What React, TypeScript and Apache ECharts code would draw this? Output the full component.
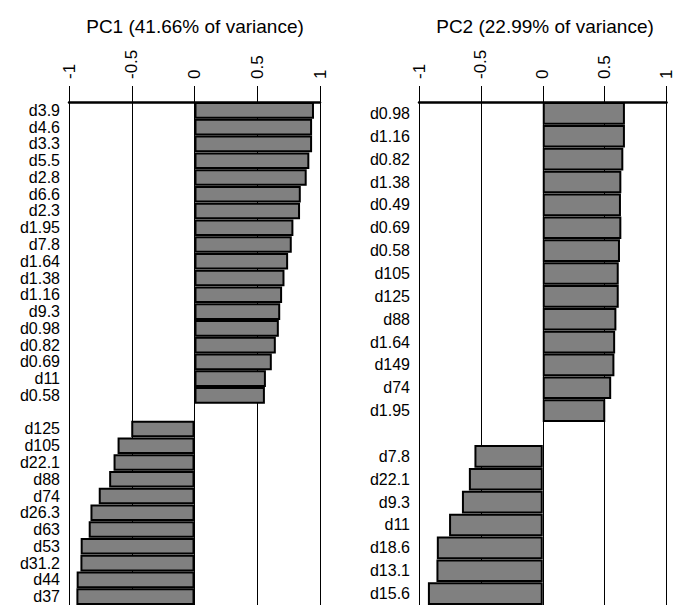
import React, { useEffect, useRef } from "react";
import * as echarts from "echarts";

const pc1Title = "PC1 (41.66% of variance)";
const pc2Title = "PC2 (22.99% of variance)";

const pc1PosCats = ["d3.9", "d4.6", "d3.3", "d5.5", "d2.8", "d6.6", "d2.3", "d1.95", "d7.8", "d1.64", "d1.38", "d1.16", "d9.3", "d0.98", "d0.82", "d0.69", "d11", "d0.58"];
const pc1PosVals = [0.952, 0.937, 0.937, 0.915, 0.894, 0.847, 0.841, 0.788, 0.775, 0.746, 0.717, 0.698, 0.683, 0.672, 0.648, 0.616, 0.569, 0.561];
const pc1NegCats = ["d125", "d105", "d22.1", "d88", "d74", "d26.3", "d63", "d53", "d31.2", "d44", "d37"];
const pc1NegVals = [-0.504, -0.613, -0.645, -0.68, -0.763, -0.829, -0.843, -0.907, -0.909, -0.939, -0.941];

const pc2PosCats = ["d0.98", "d1.16", "d0.82", "d1.38", "d0.49", "d0.69", "d0.58", "d105", "d125", "d88", "d1.64", "d149", "d74", "d1.95"];
const pc2PosVals = [0.664, 0.664, 0.651, 0.635, 0.632, 0.635, 0.624, 0.614, 0.614, 0.595, 0.585, 0.579, 0.553, 0.505];
const pc2NegCats = ["d7.8", "d22.1", "d9.3", "d11", "d18.6", "d13.1", "d15.6"];
const pc2NegVals = [-0.552, -0.597, -0.653, -0.757, -0.856, -0.859, -0.928];

const xTicks = [-1, -0.5, 0, 0.5, 1];

const FONT = "Liberation Sans, Arial, Helvetica, sans-serif";

function buildX(idx: number) {
  return {
    type: "value",
    gridIndex: idx,
    position: "top",
    min: xTicks[0],
    max: xTicks[xTicks.length - 1],
    interval: 0.5,
    axisLine: { show: true, onZero: false, lineStyle: { color: "#000", width: 2.5 } },
    axisTick: { show: true, length: 16, lineStyle: { color: "#000", width: 1 } },
    axisLabel: {
      rotate: -90,
      margin: 23,
      color: "#000",
      fontSize: 17,
      fontFamily: FONT,
      formatter: (v: number) => String(v),
    },
    splitLine: { show: true, lineStyle: { color: "#000", width: 1 } },
  };
}

function buildY(idx: number, cats: string[]) {
  return {
    type: "category",
    gridIndex: idx,
    inverse: true,
    data: cats,
    axisLine: { show: false },
    axisTick: { show: false },
    axisLabel: { color: "#000", fontSize: 16, fontFamily: FONT, margin: 9, interval: 0 },
    splitLine: { show: false },
  };
}

export default function App() {
  const ref = useRef<HTMLDivElement>(null);
  useEffect(() => {
    if (!ref.current) return;
    const chart = echarts.init(ref.current, null, { renderer: "svg" });
    const cats1 = [...pc1PosCats, "", ...pc1NegCats];
    const vals1 = [...pc1PosVals, null, ...pc1NegVals];
    const cats2 = [...pc2PosCats, "", ...pc2NegCats];
    const vals2 = [...pc2PosVals, null, ...pc2NegVals];
    const barStyle = { color: "#808080", borderColor: "#000", borderWidth: 2 };
    const titleStyle = { fontSize: 19, fontWeight: "normal", color: "#000", fontFamily: FONT };
    chart.setOption({
      animation: false,
      backgroundColor: "#fff",
      title: [
        { text: pc1Title, left: 190, top: 12, textAlign: "center", textStyle: titleStyle },
        { text: pc2Title, left: 540, top: 12, textAlign: "center", textStyle: titleStyle },
      ],
      grid: [
        { left: 69, width: 251, top: 102, height: 504 },
        { left: 419, width: 251, top: 102, height: 504 },
      ],
      xAxis: [buildX(0), buildX(1)],
      yAxis: [buildY(0, cats1), buildY(1, cats2)],
      series: [
        { type: "bar", xAxisIndex: 0, yAxisIndex: 0, data: vals1, barCategoryGap: "1%", itemStyle: barStyle },
        { type: "bar", xAxisIndex: 1, yAxisIndex: 1, data: vals2, barCategoryGap: "1%", itemStyle: barStyle },
      ],
    });
    return () => chart.dispose();
  }, []);
  return <div ref={ref} style={{ position: "fixed", left: 0, top: 0, width: 675, height: 605 }} />;
}
